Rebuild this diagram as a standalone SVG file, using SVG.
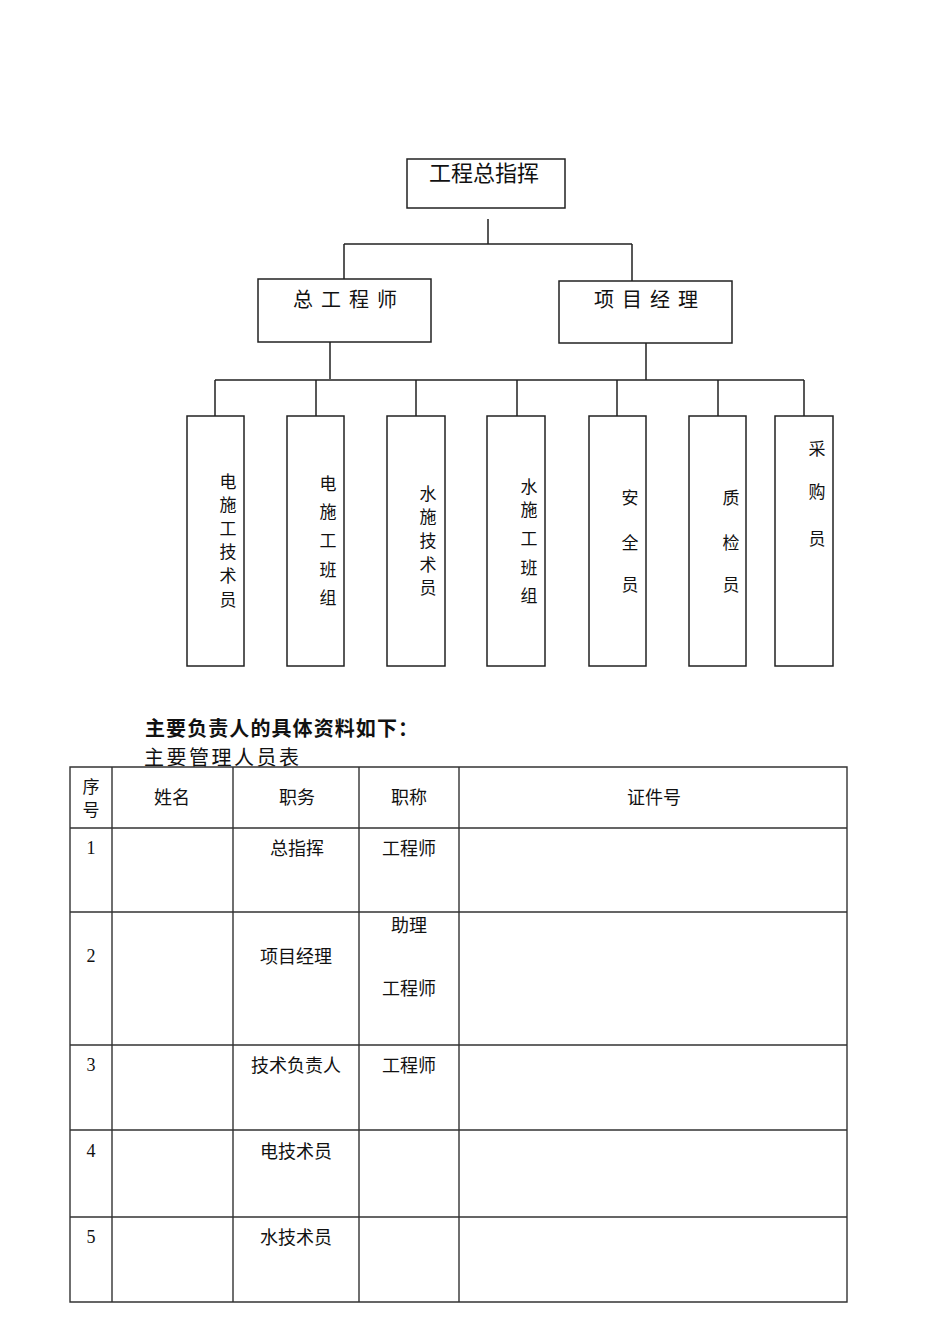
<svg xmlns="http://www.w3.org/2000/svg" width="950" height="1344" viewBox="0 0 950 1344">
<style>
.box{fill:#fff;stroke:#222;stroke-width:1.5}
.ln{fill:none;stroke:#222;stroke-width:1.5}
.tl{fill:none;stroke:#333;stroke-width:1.4}
text{font-family:"Noto Sans CJK SC","Liberation Serif",serif;fill:#111;dominant-baseline:central;text-anchor:middle}
.t20{font-size:20px}
.t22{font-size:22px}
.v{font-size:17px}
.tb{font-size:18px}
.num{font-family:"Liberation Serif",serif;font-size:18px}
.bold{font-size:20px;font-weight:bold;text-anchor:start}
.cap{font-size:20px;text-anchor:start}
</style>
<rect width="950" height="1344" fill="#fff"/>
<g id="connectors">
<path class="ln" d="M488 219V244M344 244H632M344 244V279M632 244V281"/>
<path class="ln" d="M330 342V379M646 343V380M215 380H804"/>
<path class="ln" d="M215 380V416M316 380V416M416 380V416M517 380V416M617 380V416M718 380V416M804 380V416"/>
</g>
<g id="n_top"><rect class="box" x="407" y="159" width="158" height="49"/><text class="t22" x="484" y="171">工程总指挥</text></g>
<g id="n_zgcs"><rect class="box" x="258" y="279" width="173" height="63"/><text class="t20" x="303 331 359 387" y="298">总工程师</text></g>
<g id="n_xmjl"><rect class="box" x="559" y="281" width="173" height="62"/><text class="t20" x="604 632 660 688" y="298">项目经理</text></g>
<g id="n1"><rect class="box" x="187" y="416" width="57" height="250"/>
<text class="v" x="228" y="480">电</text><text class="v" x="228" y="503">施</text><text class="v" x="228" y="527">工</text><text class="v" x="228" y="550">技</text><text class="v" x="228" y="574">术</text><text class="v" x="228" y="598">员</text></g>
<g id="n2"><rect class="box" x="287" y="416" width="57" height="250"/>
<text class="v" x="328" y="482">电</text><text class="v" x="328" y="510">施</text><text class="v" x="328" y="539">工</text><text class="v" x="328" y="568">班</text><text class="v" x="328" y="596">组</text></g>
<g id="n3"><rect class="box" x="387" y="416" width="58" height="250"/>
<text class="v" x="428" y="492">水</text><text class="v" x="428" y="515">施</text><text class="v" x="428" y="539">技</text><text class="v" x="428" y="563">术</text><text class="v" x="428" y="586">员</text></g>
<g id="n4"><rect class="box" x="487" y="416" width="58" height="250"/>
<text class="v" x="529" y="485">水</text><text class="v" x="529" y="508">施</text><text class="v" x="529" y="537">工</text><text class="v" x="529" y="566">班</text><text class="v" x="529" y="594">组</text></g>
<g id="n5"><rect class="box" x="589" y="416" width="57" height="250"/>
<text class="v" x="630" y="496">安</text><text class="v" x="630" y="541">全</text><text class="v" x="630" y="583">员</text></g>
<g id="n6"><rect class="box" x="689" y="416" width="57" height="250"/>
<text class="v" x="731" y="496">质</text><text class="v" x="731" y="541">检</text><text class="v" x="731" y="583">员</text></g>
<g id="n7"><rect class="box" x="775" y="416" width="58" height="250"/>
<text class="v" x="817" y="447">采</text><text class="v" x="817" y="490">购</text><text class="v" x="817" y="537">员</text></g>
<g id="headings">
<text class="bold" x="145" y="727" textLength="273" lengthAdjust="spacing">主要负责人的具体资料如下：</text>
<text class="cap" x="144" y="756" textLength="155" lengthAdjust="spacing">主要管理人员表</text>
</g>
<g id="table">
<path class="tl" d="M70 767H847V1302H70ZM112 767V1302M233 767V1302M359 767V1302M459 767V1302M70 828H847M70 912H847M70 1045H847M70 1130H847M70 1217H847"/>
<text class="tb" x="91" y="785" style="font-size:17px">序</text><text class="tb" x="91" y="808" style="font-size:17px">号</text>
<text class="tb" x="172" y="796">姓名</text>
<text class="tb" x="297" y="796">职务</text>
<text class="tb" x="409" y="796">职称</text>
<text class="tb" x="654" y="796">证件号</text>
<text class="num" x="91" y="848">1</text><text class="tb" x="297" y="847">总指挥</text><text class="tb" x="409" y="847">工程师</text>
<text class="num" x="91" y="956">2</text><text class="tb" x="296" y="955">项目经理</text><text class="tb" x="409" y="924">助理</text><text class="tb" x="409" y="987">工程师</text>
<text class="num" x="91" y="1065">3</text><text class="tb" x="296" y="1064">技术负责人</text><text class="tb" x="409" y="1064">工程师</text>
<text class="num" x="91" y="1151">4</text><text class="tb" x="296" y="1150">电技术员</text>
<text class="num" x="91" y="1237">5</text><text class="tb" x="296" y="1236">水技术员</text>
</g>
</svg>
